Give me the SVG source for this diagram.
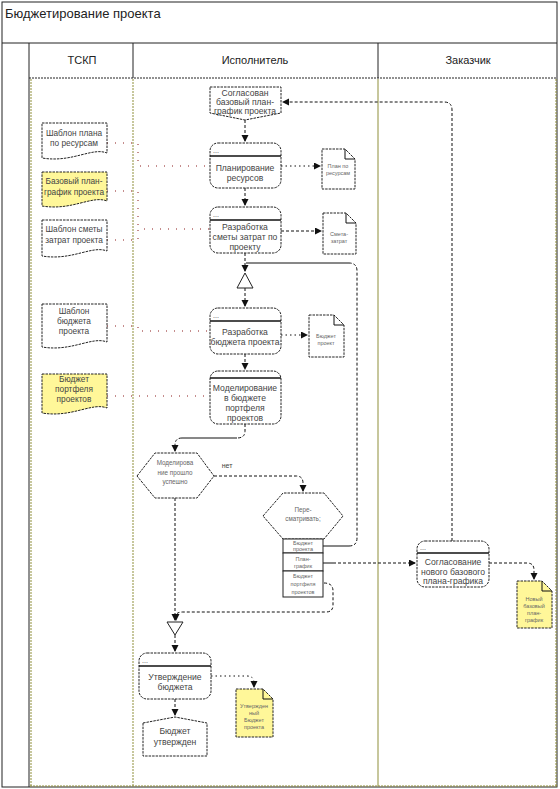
<svg xmlns="http://www.w3.org/2000/svg" width="560" height="789" viewBox="0 0 560 789">
<defs>
<marker id="ah" markerUnits="userSpaceOnUse" markerWidth="8" markerHeight="8" refX="6" refY="3.5" orient="auto">
<path d="M0,0 L7,3.5 L0,7 Z" fill="#111"/>
</marker>
<style>
text{font-family:"Liberation Sans",Arial,sans-serif}
.title{font-size:13px;fill:#222}
.hdr{font-size:11px;fill:#222;text-anchor:middle}
.t{font-size:8.6px;fill:#444;text-anchor:middle}
.tl{font-size:8.3px;fill:#444;text-anchor:middle}
.s{font-size:5.5px;fill:#666;text-anchor:middle}
.h{font-size:6.3px;fill:#666;text-anchor:middle}
.dots{font-size:7px;fill:#444}
.box{fill:#fff;stroke:#222;stroke-width:1;stroke-dasharray:2.5,1}
.yel{fill:#fff799;stroke:#222;stroke-width:1;stroke-dasharray:2.5,1}
.hl{stroke:#111;stroke-width:1.3;fill:none}
.c{fill:none;stroke:#111;stroke-width:1;stroke-dasharray:3,2}
.cs{fill:none;stroke:#111;stroke-width:1}
.cd{fill:none;stroke:#111;stroke-width:1;stroke-dasharray:1.5,3}
.rd{fill:none;stroke:#8b1a1a;stroke-width:1;stroke-dasharray:1,7}
.lane{stroke:#8f8f3a;stroke-width:1;stroke-dasharray:2,1;fill:none}
.frame{stroke:#222;stroke-width:1;fill:none}
</style>
</defs>
<rect x="0" y="0" width="560" height="789" fill="#fff"/>
<g id="pool">
<rect class="frame" x="2" y="2" width="555" height="785"/>
<line class="frame" x1="2" y1="43" x2="557" y2="43"/>
<line class="frame" x1="29" y1="78" x2="557" y2="78" stroke-dasharray="2,1"/>
<line class="frame" x1="29" y1="43" x2="29" y2="787"/>
<line class="frame" x1="133" y1="43" x2="133" y2="78"/>
<line class="frame" x1="378" y1="43" x2="378" y2="78"/>
<line class="lane" x1="31" y1="79" x2="31" y2="786"/>
<line class="lane" x1="133" y1="79" x2="133" y2="786"/>
<line x1="378" y1="79" x2="378" y2="786" stroke="#8f8f3a" stroke-width="1"/>
<line class="lane" x1="556" y1="79" x2="556" y2="786"/>
<line class="lane" x1="30" y1="786" x2="557" y2="786"/>
<text class="title" x="5" y="18">Бюджетирование проекта</text>
<text class="hdr" x="82" y="64">ТСКП</text>
<text class="hdr" x="255" y="64">Исполнитель</text>
<text class="hdr" x="468" y="64">Заказчик</text>
</g>
<g id="connectors">
<path class="rd" d="M107,143 H138 V166 H210"/>
<path class="rd" d="M107,191 H138 V229"/>
<path class="rd" d="M107,240 H138 V229 H210"/>
<path class="rd" d="M107,326 H138 V331 H210"/>
<path class="rd" d="M107,396 H210"/>
<path class="c" d="M245,120 V141" marker-end="url(#ah)"/>
<path class="c" d="M245,188 V205" marker-end="url(#ah)"/>
<path class="c" d="M245,253 V271" marker-end="url(#ah)"/>
<path class="c" d="M245,288 V306" marker-end="url(#ah)"/>
<path class="c" d="M245,354 V369" marker-end="url(#ah)"/>
<path class="c" d="M245,424 V431 Q245,438 237,438"/>
<path class="cs" d="M237,438 H182"/>
<path class="c" d="M182,438 Q175,438 175,445 V451" marker-end="url(#ah)"/>
<path class="cd" d="M281,166 H320" marker-end="url(#ah)"/>
<path class="c" d="M281,231 H321" marker-end="url(#ah)"/>
<path class="cd" d="M281,335 H307" marker-end="url(#ah)"/>
<path class="c" d="M214,476 H296 Q303,476 303,483 V491" marker-end="url(#ah)"/>
<path class="c" d="M175,498 V620" marker-end="url(#ah)"/>
<path class="c" d="M324,583 Q333,583 333,591 V605 Q333,612 326,612 H183 Q176,612 176,616 V620" marker-end="url(#ah)"/>
<path class="c" d="M175,635 V651" marker-end="url(#ah)"/>
<path class="cd" d="M211,676 H247 Q254,676 254,683 V687" marker-end="url(#ah)"/>
<path class="c" d="M175,699 V715" marker-end="url(#ah)"/>
<path class="cs" d="M323,546 H349"/>
<path class="c" d="M349,546 Q357,546 357,538 V271 Q357,263 349,263"/>
<path class="cs" d="M349,263 H246"/>
<path class="cs" d="M323,563 H333"/>
<path class="c" d="M333,563 H415" marker-end="url(#ah)"/>
<path class="c" d="M489,563 H527 Q534,563 534,570 V579" marker-end="url(#ah)"/>
<path class="c" d="M452,541 V110 Q452,102 444,102 H283" marker-end="url(#ah)"/>
</g>
<g id="doc-shablon-plana">
<path class="box" d="M42,123 H107 V153 C92,147 72,163 42,158 Z"/>
<text class="tl" x="74" y="136">Шаблон плана</text>
<text class="tl" x="74" y="146">по ресурсам</text>
</g>
<g id="doc-bazovyi-plan">
<path class="yel" d="M42,172 H107 V201 C92,195 72,211 42,206 Z"/>
<text class="tl" x="74" y="184">Базовый план-</text>
<text class="tl" x="74" y="195">график проекта</text>
</g>
<g id="doc-shablon-smety">
<path class="box" d="M42,220 H107 V251 C92,245 72,261 42,256 Z"/>
<text class="tl" x="74" y="232">Шаблон сметы</text>
<text class="tl" x="74" y="243">затрат проекта</text>
</g>
<g id="doc-shablon-budzheta">
<path class="box" d="M42,304 H107 V342 C92,336 72,352 42,347 Z"/>
<text class="tl" x="74" y="314">Шаблон</text>
<text class="tl" x="74" y="324">бюджета</text>
<text class="tl" x="74" y="334">проекта</text>
</g>
<g id="doc-budzhet-portfelya">
<path class="yel" d="M42,374 H107 V408 C92,402 72,418 42,413 Z"/>
<text class="tl" x="74" y="382">Бюджет</text>
<text class="tl" x="74" y="392">портфеля</text>
<text class="tl" x="74" y="402">проектов</text>
</g>
<g id="soglasovan">
<path class="box" d="M210,87 H281 V113 L245,120 L210,113 Z"/>
<text class="t" x="245" y="96">Согласован</text>
<text class="t" x="245" y="105">базовый план-</text>
<text class="t" x="245" y="114">график проекта</text>
</g>
<g id="planirovanie">
<rect class="box" x="210" y="143" width="71" height="45" rx="8"/>
<line class="hl" x1="210" y1="156" x2="281" y2="156"/>
<text class="dots" x="213" y="153">...</text>
<text class="t" x="245" y="171">Планирование</text>
<text class="t" x="245" y="181">ресурсов</text>
</g>
<g id="razrabotka-smety">
<rect class="box" x="210" y="207" width="71" height="46" rx="8"/>
<line class="hl" x1="210" y1="220" x2="281" y2="220"/>
<text class="dots" x="213" y="217">...</text>
<text class="t" x="245" y="230">Разработка</text>
<text class="t" x="245" y="240">сметы затрат по</text>
<text class="t" x="245" y="250">проекту</text>
</g>
<g id="doc-plan-resursy">
<path class="box" d="M322,149 H345 L355,159 V189 H322 Z"/>
<path class="cs" d="M345,149 V159 H355"/>
<text class="s" x="338" y="168">План по</text>
<text class="s" x="338" y="175">ресурсам</text>
</g>
<g id="doc-smeta">
<path class="box" d="M323,213 H346 L356,223 V254 H323 Z"/>
<path class="cs" d="M346,213 V223 H356"/>
<text class="s" x="339" y="236">Смета-</text>
<text class="s" x="339" y="243">затрат</text>
</g>
<g id="merge-up">
<path d="M245,273 L253,288 L237,288 Z" fill="#fff" stroke="#222" stroke-width="1"/>
</g>
<g id="razrabotka-budzheta">
<rect class="box" x="210" y="308" width="71" height="46" rx="8"/>
<line class="hl" x1="210" y1="321" x2="281" y2="321"/>
<text class="dots" x="213" y="318">...</text>
<text class="t" x="245" y="335">Разработка</text>
<text class="t" x="245" y="345">бюджета проекта</text>
</g>
<g id="doc-budzhet-proekt">
<path class="box" d="M309,315 H334 L344,325 V357 H309 Z"/>
<path class="cs" d="M334,315 V325 H344"/>
<text class="s" x="326" y="338">Бюджет</text>
<text class="s" x="326" y="345">проект</text>
</g>
<g id="modelirovanie">
<rect class="box" x="210" y="371" width="71" height="53" rx="8"/>
<line class="hl" x1="210" y1="378" x2="281" y2="378"/>
<text class="t" x="245" y="391">Моделирование</text>
<text class="t" x="245" y="401">в бюджете</text>
<text class="t" x="245" y="411">портфеля</text>
<text class="t" x="245" y="421">проектов</text>
</g>
<g id="hex-uspeshno">
<path class="box" d="M137,476 L155,453 H197 L214,476 L197,498 H155 Z"/>
<text class="h" x="175" y="465">Моделирова</text>
<text class="h" x="175" y="475">ние прошло</text>
<text class="h" x="175" y="484">успешно</text>
<text x="227" y="468" font-size="7" fill="#444" text-anchor="middle">нет</text>
</g>
<g id="hex-peresmatrivat">
<path class="box" d="M263,516 L283,493 H324 L343,516 L324,539 H283 Z"/>
<text class="h" x="303" y="512">Пере-</text>
<text class="h" x="303" y="521">сматривать;</text>
<rect x="283" y="539" width="40" height="14" fill="#fff" stroke="#222"/>
<rect x="283" y="553" width="40" height="18" fill="#fff" stroke="#222"/>
<rect x="283" y="571" width="40" height="26" fill="#fff" stroke="#222"/>
<text class="s" x="303" y="545">Бюджет</text>
<text class="s" x="303" y="551">проекта</text>
<text class="s" x="303" y="561">План-</text>
<text class="s" x="303" y="568">график</text>
<text class="s" x="303" y="578">Бюджет</text>
<text class="s" x="303" y="586">портфеля</text>
<text class="s" x="303" y="594">проектов</text>
</g>
<g id="soglasovanie-novogo">
<rect class="box" x="417" y="541" width="72" height="46" rx="8"/>
<line class="hl" x1="417" y1="553" x2="489" y2="553"/>
<text class="dots" x="420" y="550">...</text>
<text class="t" x="453" y="565">Согласование</text>
<text class="t" x="453" y="575">нового базового</text>
<text class="t" x="453" y="584">плана-графика</text>
</g>
<g id="doc-novyi-plan">
<path class="yel" d="M517,581 H542 L552,591 V628 H517 Z"/>
<path class="cs" d="M542,581 V591 H552"/>
<text class="s" x="534" y="601">Новый</text>
<text class="s" x="534" y="608">базовый</text>
<text class="s" x="534" y="615">план-</text>
<text class="s" x="534" y="622">график</text>
</g>
<g id="merge-down">
<path d="M167,622 H183 L175,635 Z" fill="#fff" stroke="#222" stroke-width="1"/>
</g>
<g id="utverzhdenie">
<rect class="box" x="139" y="653" width="72" height="46" rx="8"/>
<line class="hl" x1="139" y1="666" x2="211" y2="666"/>
<text class="dots" x="142" y="663">...</text>
<text class="t" x="175" y="680">Утверждение</text>
<text class="t" x="175" y="690">бюджета</text>
</g>
<g id="doc-utverzhdennyi">
<path class="yel" d="M236,689 H263 L273,699 V737 H236 Z"/>
<path class="cs" d="M263,689 V699 H273"/>
<text class="s" x="254" y="708">Утвержден</text>
<text class="s" x="254" y="715">ный</text>
<text class="s" x="254" y="722">Бюджет</text>
<text class="s" x="254" y="729">проекта</text>
</g>
<g id="budzhet-utverzhden">
<path class="box" d="M143,723 L175,717 L207,723 V756 H143 Z"/>
<text class="t" x="175" y="734">Бюджет</text>
<text class="t" x="175" y="745">утвержден</text>
</g>
</svg>
